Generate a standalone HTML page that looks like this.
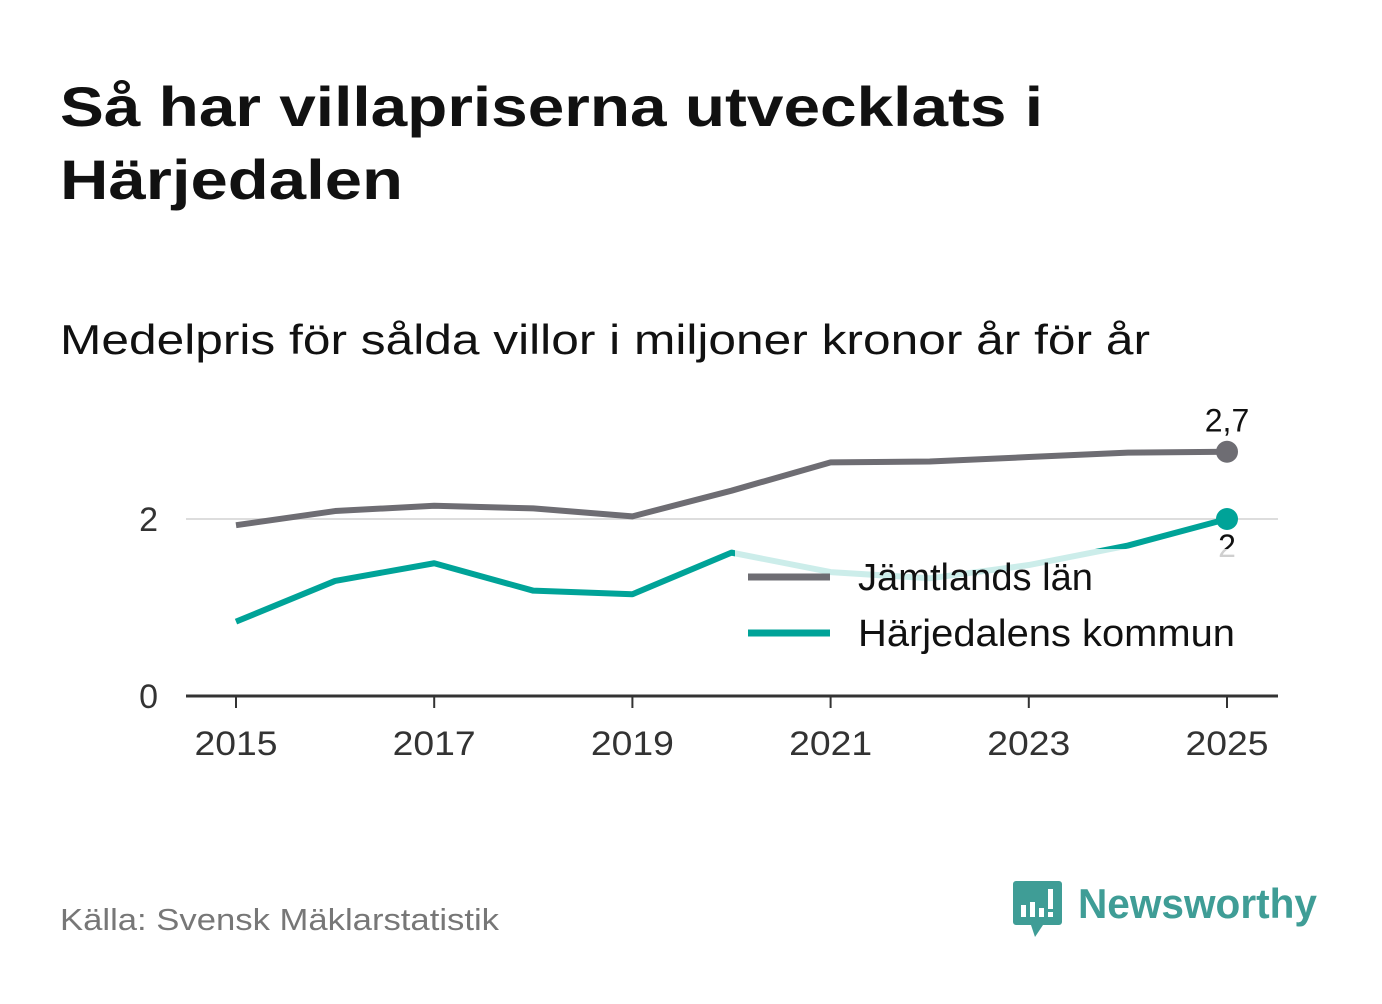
<!DOCTYPE html>
<html><head><meta charset="utf-8">
<style>
body{margin:0;background:#fff;width:1382px;height:999px;overflow:hidden;font-family:"Liberation Sans",sans-serif}
</style></head>
<body>
<svg width="1382" height="999" xmlns="http://www.w3.org/2000/svg">
<text x="60" y="126" font-size="56" font-weight="bold" fill="#111" textLength="983" lengthAdjust="spacingAndGlyphs">Så har villapriserna utvecklats i</text>
<text x="60" y="199" font-size="56" font-weight="bold" fill="#111" textLength="343" lengthAdjust="spacingAndGlyphs">Härjedalen</text>
<text x="60" y="354" font-size="42" fill="#111" textLength="1090" lengthAdjust="spacingAndGlyphs">Medelpris för sålda villor i miljoner kronor år för år</text>
<g id="plot"></g>
<text x="60" y="930" font-size="31" fill="#777" textLength="439" lengthAdjust="spacingAndGlyphs">Källa: Svensk Mäklarstatistik</text>
<g>
<path d="M1016 881 h43 a3 3 0 0 1 3 3 v38 a3 3 0 0 1 -3 3 h-16 l-8 12 l-4 -12 h-15 a3 3 0 0 1 -3 -3 v-38 a3 3 0 0 1 3 -3z" fill="#3f9d96"/>
<rect x="1021" y="905" width="5" height="12" fill="#fff"/><rect x="1030" y="902" width="5" height="15" fill="#fff"/><rect x="1039" y="908" width="5" height="9" fill="#fff"/><rect x="1048" y="889" width="5" height="20" fill="#fff"/><rect x="1048" y="912" width="5" height="5" fill="#fff"/>
<text x="1078" y="918" font-size="42" font-weight="bold" fill="#3f9d96" textLength="239" lengthAdjust="spacingAndGlyphs">Newsworthy</text>
</g>
</svg>
<script>
const years=[2015,2016,2017,2018,2019,2020,2021,2022,2023,2024,2025];
const jamtland=[1.93,2.09,2.15,2.12,2.03,2.32,2.64,2.65,2.70,2.75,2.76];
const harjedalen=[0.84,1.30,1.50,1.19,1.15,1.62,1.40,1.33,1.48,1.70,2.0];
const yTicks=[0,2];
const xTicks=[2015,2017,2019,2021,2023,2025];
const NS="http://www.w3.org/2000/svg";
const g=document.getElementById('plot');
const X=v=>236+(v-2015)*99.1;
const Y=v=>696-v*88.5;
function mk(t,a){const e=document.createElementNS(NS,t);for(const k in a)e.setAttribute(k,a[k]);g.appendChild(e);return e;}
yTicks.forEach(t=>{
 if(t>0){const l=mk('line',{x1:186,x2:1278,y1:Y(t),y2:Y(t),stroke:'#ddd','stroke-width':2});
 
 }
 const tx=mk('text',{x:158,y:Y(t)+12,'font-size':34,fill:'#333','text-anchor':'end'});tx.textContent=t;
 
 
});
const ax=mk('line',{x1:186,x2:1278,y1:696,y2:696,stroke:'#333','stroke-width':3});


xTicks.forEach(t=>{
 const tk=mk('line',{x1:X(t),x2:X(t),y1:696,y2:708,stroke:'#333','stroke-width':2});
 
 
 const tx=mk('text',{x:X(t),y:755,'font-size':34,fill:'#333','text-anchor':'middle',textLength:83,lengthAdjust:'spacingAndGlyphs'});tx.textContent=t;
 
 
});
function series(vals,color,name,label,dy){
 const p=mk('polyline',{points:vals.map((v,i)=>X(years[i])+','+Y(v)).join(' '),fill:'none',stroke:color,'stroke-width':6,'stroke-linejoin':'round'});
 
 
 const n=vals.length-1;
 const c=mk('circle',{cx:X(years[n]),cy:Y(vals[n]),r:11,fill:color});
 
 
 const t=mk('text',{x:X(years[n]),y:Y(vals[n])+dy,'font-size':32,fill:'#111','text-anchor':'middle'});
 t.textContent=label;
 
 
}
series(jamtland,'#6e6d73','jamtland','2,7',-20);
series(harjedalen,'#00a398','harjedalen','2',38);
const bg=mk('rect',{x:735,y:549,width:505,height:112,fill:'#fff','fill-opacity':0.8});


[['Jämtlands län','#6e6d73',577,235],['Härjedalens kommun','#00a398',633,377]].forEach(([n,c,y,w])=>{
 const l=mk('line',{x1:748,x2:830,y1:y,y2:y,stroke:c,'stroke-width':7});
 
 
 const t=mk('text',{x:858,y:y+13,'font-size':38,fill:'#111',textLength:w,lengthAdjust:'spacingAndGlyphs'});t.textContent=n;
 
 
});
</script>
</body></html>
